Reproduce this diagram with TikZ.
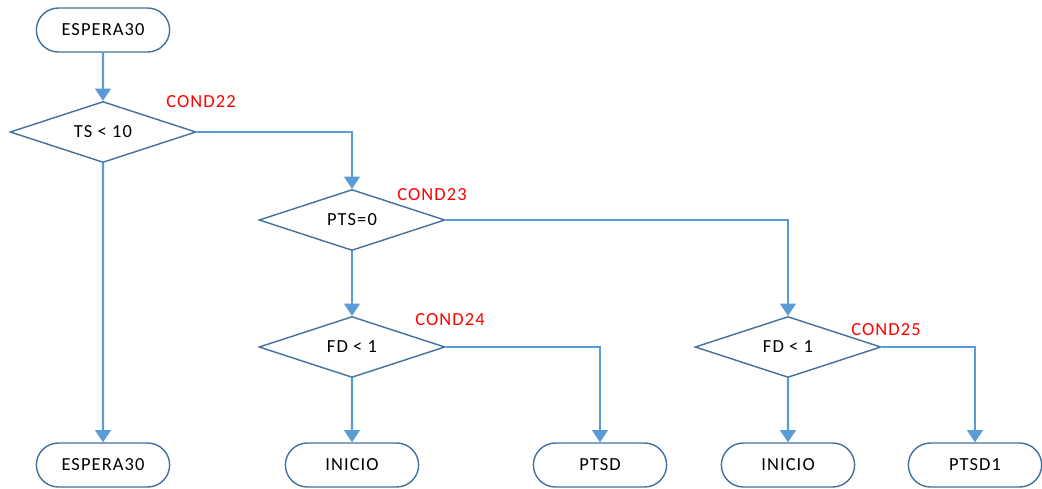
\documentclass[tikz,border=0pt]{standalone}
\usepackage{fontspec}
\setmainfont{Carlito}[LetterSpace=6]
\usepackage{xcolor}
\usetikzlibrary{shapes,arrows.meta,positioning}

\definecolor{linkblue}{RGB}{91,155,213}
\definecolor{edgeblue}{RGB}{65,113,156}

\tikzset{
  term/.style={draw=edgeblue, line width=0.8pt, fill=white, rounded rectangle,
    minimum width=2.9cm, minimum height=0.88cm},
  cond/.style={draw=edgeblue, line width=0.8pt, fill=white, diamond, aspect=3, inner sep=1pt,
    minimum width=3.72cm, minimum height=1.22cm},
  condlbl/.style={text=red, anchor=west, inner sep=0pt},
  link/.style={draw=linkblue, line width=1.2pt, -{Triangle[length=7pt,width=9pt]}},
}

\begin{document}
\begin{tikzpicture}[x=0.02cm, y=-0.02cm, font=\fontsize{10.5}{12}\selectfont]
  \useasboundingbox (0,0) rectangle (1042,488);

  \node[term] (espera) at (103,30) {ESPERA30};

  % decisions
  \node[cond] (c22) at (103,132) {TS < 10};
  \node[cond] (c23) at (352,220) {PTS=0};
  \node[cond] (c24) at (352,347) {FD < 1};
  \node[cond] (c25) at (788,347) {FD < 1};

  \node[condlbl] (l22) at (166,102) {COND22};
  \node[condlbl] (l23) at (397,195) {COND23};
  \node[condlbl] (l24) at (415,320) {COND24};
  \node[condlbl] (l25) at (851,330) {COND25};

  % end states
  \foreach \x/\name/\txt in {103/fin/ESPERA30, 352/ini/INICIO, 600/ptsd/PTSD, 788/inib/INICIO, 975/ptsdb/PTSD1}
    {\node[term] (\name) at (\x,465) {\txt};}

  \draw[link] (espera) -- (c22);
  \draw[link] (c22) -- (fin);
  \draw[link] (c22.east) -| (c23.north);
  \draw[link] (c23) -- (c24);
  \draw[link] (c23.east) -| (c25.north);
  \draw[link] (c24) -- (ini);
  \draw[link] (c24.east) -| (ptsd.north);
  \draw[link] (c25) -- (inib);
  \draw[link] (c25.east) -| (ptsdb.north);
\end{tikzpicture}
\end{document}
